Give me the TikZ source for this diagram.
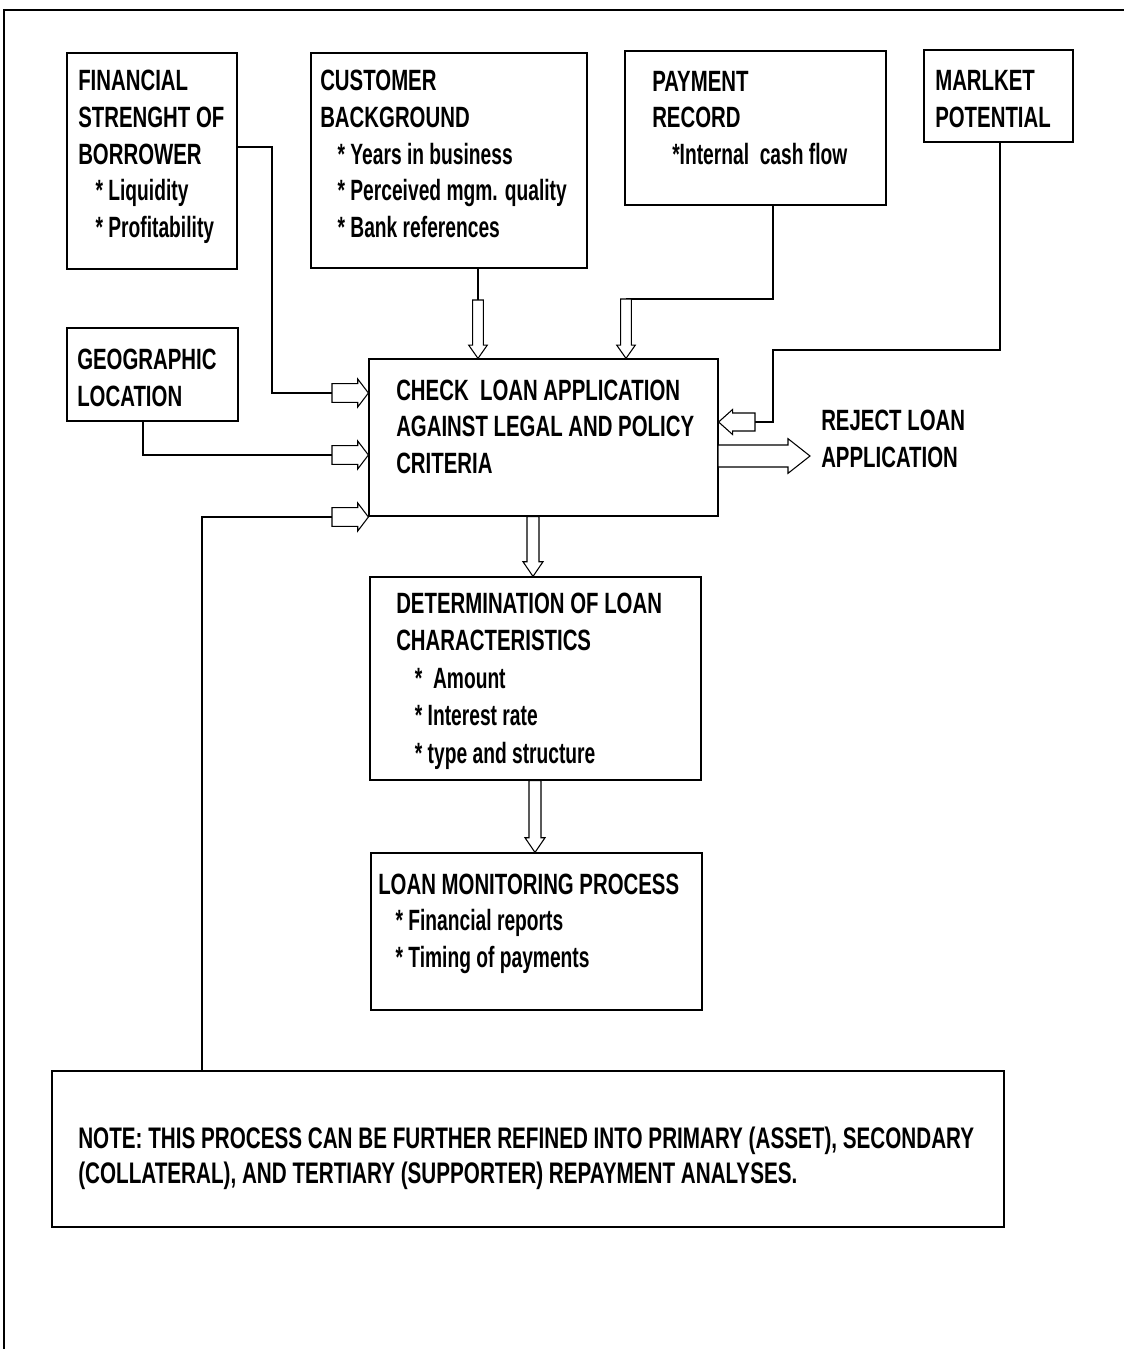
\documentclass[tikz,border=0pt]{standalone}
\usepackage{fontspec}
\setmainfont{Liberation Sans}[FakeStretch=0.695]
\usetikzlibrary{calc,fit}

% Hollow block arrow from start #1 to tip #2:
% #3 half shaft width, #4 half head width, #5 head length
\newcommand\blockarrow[5]{%
  \path ($(#2)!#5!(#1)$) coordinate (headbase);
  \draw[arrowline] ($(#1)!#3!90:(#2)$) -- ($(headbase)!#3!-90:(#1)$)
    -- ($(headbase)!#4!-90:(#1)$) -- (#2) -- ($(headbase)!#4!90:(#1)$)
    -- ($(headbase)!#3!90:(#1)$) -- ($(#1)!#3!-90:(#2)$) -- cycle;}

% bullet lines in lower case are set a little narrower
\newcommand\lc[1]{{\addfontfeatures{FakeStretch=0.655}#1}}

% text nodes are placed by the baseline of their last line
\tikzset{
  box/.style={draw, line width=0.9pt, inner sep=0pt, rectangle},
  txt/.style={anchor=base west, align=left, inner sep=0pt,
              font=\fontsize{22}{27.4}\selectfont\bfseries},
  wire/.style={line width=0.8pt},
  arrowline/.style={line width=0.8pt, fill=white, line join=miter},
  frame/.style={line width=1.8pt}
}

\begin{document}
\begin{tikzpicture}[x=0.75pt,y=-0.75pt]
\useasboundingbox (0,0) rectangle (1124,1349);

% page frame (top and left rules)
\draw[frame] (4,1349) -- (4,10) -- (1124,10);

% boxes
\node[box, fit={(67,53) (237,269)}] (fin) {};
\node[box, fit={(311,53) (587,268)}] (cust) {};
\node[box, fit={(625,51) (886,205)}] (pay) {};
\node[box, fit={(924,50) (1073,142)}] (mkt) {};
\node[box, fit={(67,328) (238,421)}] (geo) {};
\node[box, fit={(369,359) (718,516)}] (check) {};
\node[box, fit={(370,577) (701,780)}] (det) {};
\node[box, fit={(371,853) (702,1010)}] (mon) {};
\node[box, fit={(52,1071) (1004,1227)}] (note) {};

% texts
\node[txt] (finT) at (78,237.1) {FINANCIAL\\STRENGHT OF\\BORROWER\\\hspace*{13pt}\lc{* Liquidity}\\\hspace*{13pt}\lc{* Profitability}};
\node[txt] (custT) at (320,237.1) {CUSTOMER\\BACKGROUND\\\hspace*{13pt}\lc{* Years in business}\\\hspace*{13pt}\lc{* Perceived mgm. quality}\\\hspace*{13pt}\lc{* Bank references}};
\node[txt] (payT) at (652,164.1) {PAYMENT\\RECORD\\\hspace*{15pt}\lc{*Internal\ \ cash flow}};
\node[txt] (mktT) at (935,127.5) {MARLKET\\POTENTIAL};
\node[txt] (geoT) at (77,406.5) {GEOGRAPHIC\\LOCATION};
\node[txt] (checkT) at (396,473.1) {CHECK\ \ LOAN APPLICATION\\AGAINST LEGAL AND POLICY\\CRITERIA};
\node[txt] (rejT) at (821,467.5) {REJECT LOAN\\APPLICATION};
\node[txt, font=\fontsize{22}{28.1}\selectfont\bfseries] (detT) at (396,763) {DETERMINATION OF LOAN\\CHARACTERISTICS\\\hspace*{14pt}\lc{*\ \ Amount}\\\hspace*{14pt}\lc{* Interest rate}\\\hspace*{14pt}\lc{* type and structure}};
\node[txt] (monT) at (378,967.1) {LOAN MONITORING PROCESS\\\hspace*{13pt}\lc{* Financial reports}\\\hspace*{13pt}\lc{* Timing of payments}};
\node[txt, font=\fontsize{22.3}{26.3}\selectfont\bfseries] (noteT) at (78,1183.1) {NOTE: THIS PROCESS CAN BE FURTHER REFINED INTO PRIMARY (ASSET), SECONDARY\\(COLLATERAL), AND TERTIARY (SUPPORTER) REPAYMENT ANALYSES.};

% arrow start points
\coordinate (finA) at (332,393);
\coordinate (geoA) at (332,455);
\coordinate (noteA) at (332,517);
\coordinate (custA) at (478,300);
\coordinate (payA) at (626,299);
\coordinate (mktA) at (755,422);

% feeder lines
\draw[wire] (fin.east |- 0,147) -- (272,147) -- (272,393) -- (finA);
\draw[wire] (geo.south -| 143,0) -- (143,455) -- (geoA);
\draw[wire] (note.north -| 202,0) -- (202,517) -- (noteA);
\draw[wire] (cust.south -| custA) -- (custA);
\draw[wire] (pay.south -| 773,0) -- (773,299) -- (payA);
\draw[wire] (mkt.south -| 1000,0) -- (1000,350) -- (773,350) -- (773,422) -- (mktA);

% block arrows into the check box
\blockarrow{finA}{check.west |- finA}{7pt}{10.5pt}{8pt}
\blockarrow{geoA}{check.west |- geoA}{7pt}{10.5pt}{8pt}
\blockarrow{noteA}{check.west |- noteA}{7pt}{10.5pt}{8pt}
\blockarrow{custA}{check.north -| custA}{4pt}{7pt}{10pt}
\blockarrow{payA}{check.north -| payA}{4pt}{7pt}{10pt}
\blockarrow{mktA}{check.east |- mktA}{6.75pt}{9.4pt}{10.5pt}

% rejection and downstream flow
\coordinate (rejA) at (718,456);
\coordinate (rejTip) at (810,456);
\blockarrow{rejA}{rejTip}{8.25pt}{13pt}{16.5pt}
\blockarrow{check.south -| 533,0}{det.north -| 533,0}{4.5pt}{7.5pt}{11pt}
\blockarrow{det.south -| 535,0}{mon.north -| 535,0}{4.5pt}{7.5pt}{11pt}
\end{tikzpicture}
\end{document}
